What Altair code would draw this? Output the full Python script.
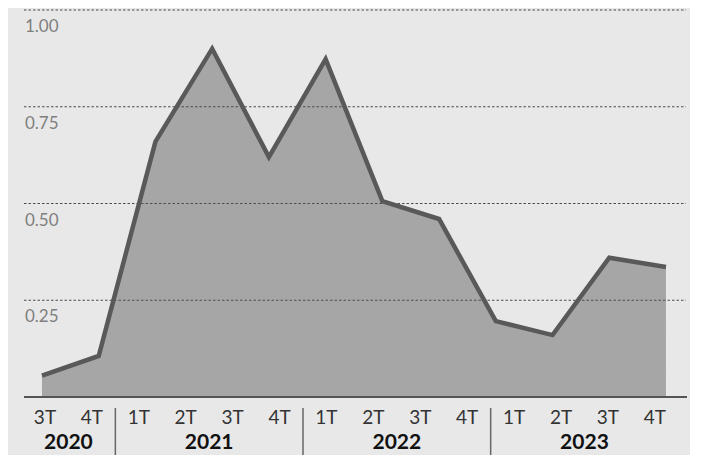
import altair as alt
import pandas as pd

# ---- data ----
quarters = ["3T", "4T", "1T", "2T", "3T", "4T", "1T", "2T", "3T", "4T", "1T", "2T", "3T", "4T"]
years = ["2020", "2021", "2022", "2023"]
year_pos = [0.5, 3.5, 7.5, 11.5]
separators = [1.5, 5.5, 9.5]
values = [0.055, 0.106, 0.66, 0.90, 0.62, 0.873, 0.506, 0.46, 0.196, 0.16, 0.36, 0.336]
grid_values = [0.25, 0.5, 0.75, 1.0]
grid_labels = ["0.25", "0.50", "0.75", "1.00"]

W, H = 662, 387

series = pd.DataFrame({"i": list(range(len(values))), "v": values})
grid = pd.DataFrame({"v": grid_values, "lab": grid_labels})
qdf = pd.DataFrame({"i": list(range(len(quarters))), "q": quarters})
ydf = pd.DataFrame({"i": year_pos, "y": years})
sdf = pd.DataFrame({"i": separators})

# label slots (14 quarters) expressed on the data index axis (12 points)
slot_expr = "0.0529 + 0.827 * datum.i"

yscale = alt.Scale(domain=[0, 1.0], nice=False, zero=True)
xscale = alt.Scale(domain=[-0.317, 11.353], nice=False, zero=False)
xdata = alt.X("i:Q", scale=xscale, axis=None)
xslot = alt.X("s:Q", scale=xscale, axis=None)

area = alt.Chart(series).mark_area(color="#a6a6a6", opacity=1).encode(
    x=xdata, y=alt.Y("v:Q", scale=yscale, axis=None)
)
gridrules = alt.Chart(grid).mark_rule(color="#4d4d4d", strokeWidth=1, strokeDash=[2.5, 2]).encode(
    y=alt.Y("v:Q", scale=yscale, axis=None), x=alt.value(0), x2=alt.value(W)
)
gridtext = alt.Chart(grid).mark_text(
    align="left", baseline="top", dy=9, font="Lato", fontSize=17, color="#7f7f7f"
).encode(y=alt.Y("v:Q", scale=yscale, axis=None), x=alt.value(1), text="lab:N")
baseline = alt.Chart(pd.DataFrame({"v": [0.0]})).mark_rule(color="#555555", strokeWidth=2).encode(
    y=alt.Y("v:Q", scale=yscale, axis=None), x=alt.value(0), x2=alt.value(W + 1)
)
line = alt.Chart(series).mark_line(color="#595959", strokeWidth=4.5).encode(
    x=xdata, y=alt.Y("v:Q", scale=yscale, axis=None)
)
qtext = alt.Chart(qdf).transform_calculate(s=slot_expr).mark_text(
    font="Lato", fontSize=19, color="#333333", baseline="middle"
).encode(x=xslot, y=alt.value(408), text="q:N")
ytext = alt.Chart(ydf).transform_calculate(s=slot_expr).mark_text(
    font="Lato", fontSize=21, fontWeight="bold", color="#111111", baseline="middle"
).encode(x=xslot, y=alt.value(433), text="y:N")
seps = alt.Chart(sdf).transform_calculate(s=slot_expr).mark_rule(
    color="#666666", strokeWidth=1.5
).encode(x=xslot, y=alt.value(398), y2=alt.value(445))

chart = alt.layer(area, gridrules, baseline, line, gridtext, qtext, ytext, seps).properties(
    width=W, height=H,
    background="#e8e8e8",
    autosize=alt.AutoSizeParams(type="none"),
    padding={"left": 16, "top": 2, "right": 4, "bottom": 58},
).configure_view(stroke=None)

chart.save("out.html", embed_options={"renderer": "svg", "actions": False})
